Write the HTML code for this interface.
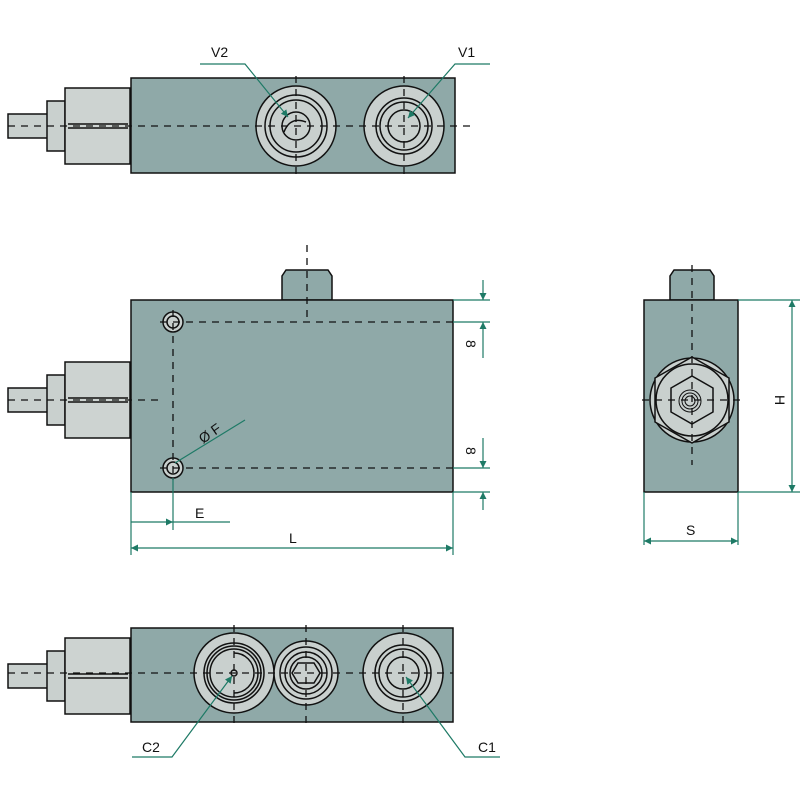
<!DOCTYPE html>
<html><head><style>body{margin:0;background:#fff}svg{display:block}</style></head><body>
<svg width="800" height="800" viewBox="0 0 800 800" xmlns="http://www.w3.org/2000/svg" font-family="Liberation Sans, sans-serif">
<defs>
<marker id="a" viewBox="0 0 10 10" refX="10" refY="5" markerWidth="9" markerHeight="7" orient="auto-start-reverse" markerUnits="userSpaceOnUse"><path d="M0,0 L10,5 L0,10z" fill="#1e7a66"/></marker>
<g id="fit">
<rect x="8" y="-12" width="40" height="24" fill="#c9d0ce" stroke="#111" stroke-width="1.5"/>
<rect x="47" y="-25" width="18" height="50" fill="#c9d0ce" stroke="#111" stroke-width="1.5"/>
<rect x="65" y="-38" width="65" height="76" fill="#cdd3d1" stroke="#111" stroke-width="1.5"/>
<line x1="68" y1="-2" x2="128" y2="-2" stroke="#111"/><line x1="68" y1="2" x2="128" y2="2" stroke="#111"/>
</g>
</defs>
<g stroke="#111" stroke-width="1.5">
<!-- TOP VIEW -->
<use href="#fit" y="126"/>
<rect x="131" y="78" width="324" height="95" fill="#8fa9a8"/>
<g fill="#c9d0ce"><circle cx="296" cy="126" r="40"/><circle cx="296" cy="126" r="31"/><circle cx="296" cy="126" r="26"/><circle cx="296" cy="126" r="14"/>
<circle cx="404" cy="126" r="40"/><circle cx="404" cy="126" r="28"/><circle cx="404" cy="126" r="24"/><circle cx="404" cy="126" r="16"/></g>
<path d="M284,132 Q290,116 306,122" fill="none"/>
<g stroke-dasharray="7,6" stroke-width="1.3"><line x1="8" y1="126" x2="470" y2="126"/><line x1="296" y1="76" x2="296" y2="176"/><line x1="404" y1="76" x2="404" y2="176"/></g>
<!-- MIDDLE VIEW -->
<use href="#fit" y="400" transform="translate(0,0)"/>
<path d="M282,300 V276 L286,270 H328 L332,276 V300z" fill="#8fa9a8"/>
<rect x="131" y="300" width="322" height="192" fill="#8fa9a8"/>
<circle cx="173" cy="322" r="10" fill="#c9d0ce"/><circle cx="173" cy="322" r="6" fill="#c9d0ce"/>
<circle cx="173" cy="468" r="10" fill="#c9d0ce"/><circle cx="173" cy="468" r="6" fill="#c9d0ce"/>
<g stroke-dasharray="7,6" stroke-width="1.3"><line x1="160" y1="322" x2="453" y2="322"/><line x1="160" y1="468" x2="453" y2="468"/><line x1="173" y1="310" x2="173" y2="480"/><line x1="8" y1="400" x2="160" y2="400"/><line x1="307" y1="245" x2="307" y2="320"/></g>
<!-- SIDE VIEW -->
<path d="M670,300 V276 L674,270 H710 L714,276 V300z" fill="#8fa9a8"/>
<rect x="644" y="300" width="94" height="192" fill="#8fa9a8"/>
<circle cx="692" cy="400" r="42" fill="#c9d0ce"/>
<polygon points="692,357 729,378 729,422 692,443 655,422 655,378" fill="#c9d0ce"/>
<circle cx="692" cy="400" r="36" fill="none"/>
<polygon points="692,376 713,388 713,412 692,424 671,412 671,388" fill="#c9d0ce"/>
<g fill="none" stroke-width="1"><circle cx="690" cy="401" r="11"/><circle cx="690" cy="401" r="8"/><circle cx="690" cy="401" r="5"/></g>
<g stroke-dasharray="7,6" stroke-width="1.3"><line x1="692" y1="265" x2="692" y2="465"/><line x1="642" y1="400" x2="742" y2="400"/></g>
<!-- BOTTOM VIEW -->
<use href="#fit" y="676"/>
<rect x="131" y="628" width="322" height="94" fill="#8fa9a8"/>
<g fill="#c9d0ce"><circle cx="234" cy="673" r="40"/><circle cx="234" cy="673" r="30"/><circle cx="234" cy="673" r="27"/><circle cx="234" cy="673" r="24"/>
<circle cx="306" cy="673" r="32"/><circle cx="306" cy="673" r="26"/><circle cx="306" cy="673" r="21"/><circle cx="306" cy="673" r="16"/>
<polygon points="298,663 314,663 320,673 314,683 298,683 292,673"/>
<circle cx="403" cy="673" r="40"/><circle cx="403" cy="673" r="28"/><circle cx="403" cy="673" r="24"/><circle cx="403" cy="673" r="16"/></g>
<path d="M234,653 A20,20 0 1 1 234,693" fill="none"/><circle cx="234" cy="673" r="3" fill="#c9d0ce"/>
<g stroke-dasharray="7,6" stroke-width="1.3"><line x1="8" y1="673" x2="453" y2="673"/><line x1="234" y1="625" x2="234" y2="725"/><line x1="306" y1="625" x2="306" y2="725"/><line x1="403" y1="625" x2="403" y2="725"/></g>
</g>
<!-- dims -->
<g stroke="#1e7a66" stroke-width="1.2" fill="none">
<path d="M200,64 H245 L288,117" marker-end="url(#a)"/>
<path d="M490,64 H455 L408,118" marker-end="url(#a)"/>
<path d="M132,757 H172 L232,676" marker-end="url(#a)"/>
<path d="M500,757 H465 L406,677" marker-end="url(#a)"/>
<line x1="453" y1="300" x2="490" y2="300"/><line x1="453" y1="322" x2="490" y2="322"/>
<line x1="453" y1="468" x2="490" y2="468"/><line x1="453" y1="492" x2="490" y2="492"/>
<line x1="483" y1="280" x2="483" y2="300" marker-end="url(#a)"/><line x1="483" y1="358" x2="483" y2="322" marker-end="url(#a)"/>
<line x1="483" y1="438" x2="483" y2="468" marker-end="url(#a)"/><line x1="483" y1="510" x2="483" y2="492" marker-end="url(#a)"/>
<line x1="131" y1="492" x2="131" y2="555"/><line x1="173" y1="478" x2="173" y2="530"/><line x1="453" y1="492" x2="453" y2="555"/>
<line x1="131" y1="522" x2="173" y2="522" marker-end="url(#a)"/><line x1="173" y1="522" x2="230" y2="522"/>
<line x1="131" y1="548" x2="453" y2="548" marker-start="url(#a)" marker-end="url(#a)"/>
<line x1="175" y1="463" x2="245" y2="420"/>
<line x1="738" y1="300" x2="800" y2="300"/><line x1="738" y1="492" x2="800" y2="492"/>
<line x1="792" y1="300" x2="792" y2="492" marker-start="url(#a)" marker-end="url(#a)"/>
<line x1="644" y1="492" x2="644" y2="545"/><line x1="738" y1="492" x2="738" y2="545"/>
<line x1="644" y1="541" x2="738" y2="541" marker-start="url(#a)" marker-end="url(#a)"/>
</g>
<g font-size="14" fill="#111">
<text x="211" y="57">V2</text><text x="458" y="57">V1</text>
<text x="142" y="752">C2</text><text x="478" y="752">C1</text>
<text x="195" y="518">E</text><text x="289" y="543">L</text><text x="686" y="535">S</text>
<text transform="translate(203,444) rotate(-35)">Ø F</text>
<text transform="translate(775,395) rotate(90)">H</text>
<text transform="translate(466,340) rotate(90)">8</text>
<text transform="translate(466,447) rotate(90)">8</text>
</g>
</svg>
</body></html>
